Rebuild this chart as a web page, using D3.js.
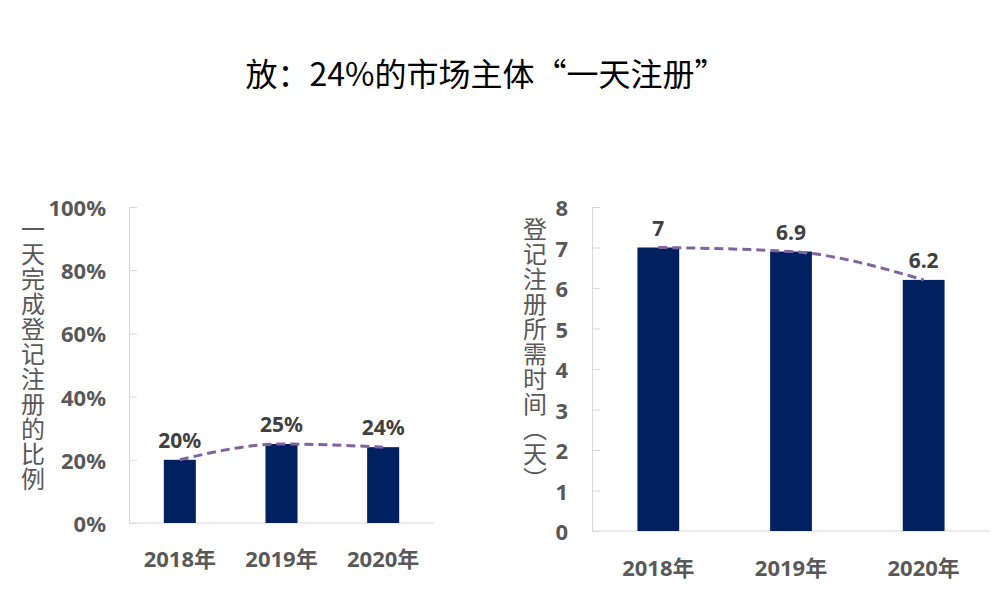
<!DOCTYPE html>
<html>
<head>
<meta charset="utf-8">
<script src="https://cdn.jsdelivr.net/npm/d3@7"></script>
<style>
  body { margin: 0; background: #fff; }
  text { font-family: "Noto Sans", "Noto Sans CJK SC", sans-serif; }
</style>
</head>
<body>
<div id="container"></div>
<script>
// data
const years = ["2018年", "2019年", "2020年"]
const shareOneDay = [0.20, 0.25, 0.24]
const shareLabels = ["20%", "25%", "24%"]
const shareTicks = [0, 0.2, 0.4, 0.6, 0.8, 1.0]
const daysNeeded = [7, 6.9, 6.2]
const daysLabels = ["7", "6.9", "6.2"]
const daysTicks = [0, 1, 2, 3, 4, 5, 6, 7, 8]

const width = 1008, height = 609
const barColour = "#002060", lineColour = "#8064a2", axisColour = "#d9d9d9"
const tickText = "#595959", labelText = "#404040"

const svg = d3.select("#container").append("svg")
  .attr("width", width)
  .attr("height", height)

svg.append("text")
  .attr("x", 486).attr("y", 72)
  .attr("text-anchor", "middle").attr("dominant-baseline", "central")
  .style("font-family", "'Noto Sans CJK SC'")
  .style("font-size", "32px").style("fill", "#000")
  .text("放：24%的市场主体“一天注册”")

// one panel = bars + dashed smoothed line + labels
function panel(opt) {
  const x = d3.scaleBand().domain(years).range([opt.x0, opt.x1]).paddingInner(0.685).paddingOuter(0.3425)
  const y = d3.scaleLinear().domain(opt.domain).range([opt.y1, opt.y0])
  const g = svg.append("g")

  // axes
  const yAxis = g.append("g").attr("transform", `translate(${opt.x0},0)`)
    .call(d3.axisRight(y).tickValues(opt.ticks).tickSize(8).tickFormat(""))
  yAxis.select(".domain").attr("stroke", axisColour)
  yAxis.selectAll(".tick line").attr("stroke", axisColour)

  g.append("line")
    .attr("x1", opt.x0).attr("x2", opt.x1)
    .attr("y1", y(0)).attr("y2", y(0))
    .attr("stroke", axisColour)

  g.selectAll(".ytl").data(opt.ticks).enter().append("text")
    .attr("x", opt.tickX).attr("y", d => y(d))
    .attr("text-anchor", "end").attr("dominant-baseline", "central")
    .style("font-size", "22px").style("font-weight", "bold").style("fill", tickText)
    .text(opt.tickFormat)

  g.selectAll(".xtl").data(years).enter().append("text")
    .attr("x", d => x(d) + x.bandwidth() / 2).attr("y", opt.xLabelY)
    .attr("text-anchor", "middle").attr("dominant-baseline", "central")
    .style("font-size", "22px").style("font-weight", "bold").style("fill", tickText)
    .text(d => d)

  g.selectAll("rect").data(opt.values).enter().append("rect")
    .attr("x", (d, i) => x(years[i]))
    .attr("y", d => y(d))
    .attr("width", x.bandwidth())
    .attr("height", d => y(0) - y(d))
    .style("fill", barColour)

  const line = d3.line()
    .x((d, i) => x(years[i]) + x.bandwidth() / 2)
    .y(d => y(d))
    .curve(d3.curveMonotoneX)
  g.append("path")
    .attr("d", line(opt.values))
    .attr("fill", "none")
    .attr("stroke", lineColour)
    .attr("stroke-width", 3)
    .attr("stroke-dasharray", "9,5")

  g.selectAll(".dl").data(opt.values).enter().append("text")
    .attr("x", (d, i) => x(years[i]) + x.bandwidth() / 2)
    .attr("y", d => y(d) - 20)
    .attr("text-anchor", "middle").attr("dominant-baseline", "central")
    .style("font-size", "21px").style("font-weight", "bold").style("fill", labelText)
    .text((d, i) => opt.labels[i])

  // vertical axis title, one character under the other
  g.append("text")
    .attr("x", opt.titleX).attr("y", opt.titleY)
    .style("writing-mode", "vertical-rl")
    .style("font-family", "'Noto Sans CJK SC'")
    .style("font-size", "24px").style("letter-spacing", "1px").style("fill", tickText)
    .text(opt.title)
}

panel({
  x0: 129, x1: 434, y0: 207, y1: 523,
  domain: [0, 1], ticks: shareTicks, tickFormat: d3.format(".0%"),
  values: shareOneDay, labels: shareLabels,
  tickX: 106, xLabelY: 558,
  title: "一天完成登记注册的比例", titleX: 33, titleY: 217
})

panel({
  x0: 592, x1: 990, y0: 207, y1: 531,
  domain: [0, 8], ticks: daysTicks, tickFormat: d => d,
  values: daysNeeded, labels: daysLabels,
  tickX: 568, xLabelY: 567,
  title: "登记注册所需时间（天）", titleX: 535, titleY: 217
})
</script>
</body>
</html>
